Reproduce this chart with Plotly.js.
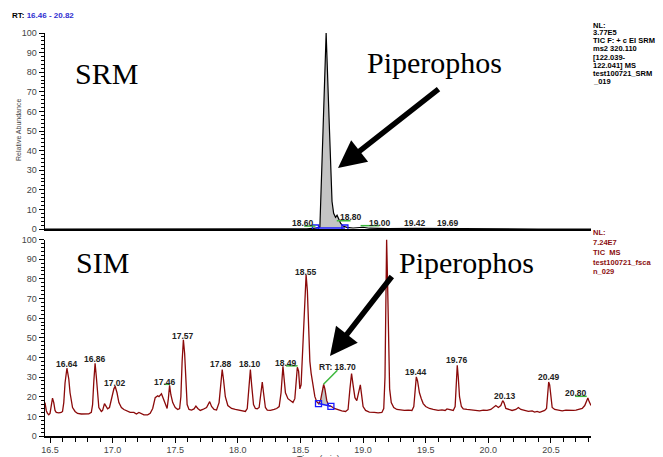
<!DOCTYPE html>
<html><head><meta charset="utf-8">
<script src="https://cdn.plot.ly/plotly-3.0.1.min.js"></script>
<style>html,body{margin:0;padding:0;background:#fff}#chart{width:663px;height:457px}</style>
</head><body><div id="chart"></div>
<script>
// ---- SRM trace (top panel) ----
const srmTime  = [16.46,16.80,17.20,17.60,18.00,18.30,18.55,18.62,18.655,18.68,18.705,18.728,18.752,18.765,18.78,18.792,18.805,18.82,18.84,18.87,18.92,18.97,19.00,19.05,19.20,19.42,19.60,19.69,20.00,20.40,20.82];
const srmAbund = [0,0,0,0,0,0,0.1,0.4,1,50,100,57,14,8,6,7,5,3,1.5,0.8,0.5,0.6,0.9,0.4,0.2,0.3,0.2,0.3,0.1,0,0];
const srmPeakWindow = [18.62, 18.855];
const srmBaseLevel = [0.5, 0.5];

// ---- SIM trace (bottom panel) ----
const simTime = [16.46,16.47,16.48,16.49,16.50,16.51,16.52,16.53,16.54,16.55,16.57,16.59,16.60,16.61,16.62,16.635,16.65,16.66,16.67,16.68,16.70,16.72,16.75,16.78,16.81,16.83,16.84,16.85,16.86,16.87,16.88,16.89,16.91,16.92,16.935,16.95,16.96,16.975,16.99,17.01,17.02,17.035,17.05,17.07,17.09,17.11,17.14,17.17,17.19,17.21,17.23,17.25,17.28,17.30,17.32,17.34,17.36,17.37,17.39,17.41,17.425,17.435,17.445,17.455,17.465,17.48,17.50,17.52,17.535,17.545,17.555,17.565,17.575,17.585,17.595,17.61,17.63,17.65,17.665,17.68,17.70,17.72,17.75,17.775,17.79,17.81,17.83,17.85,17.865,17.875,17.885,17.90,17.92,17.95,17.98,18.01,18.04,18.06,18.075,18.09,18.10,18.11,18.125,18.14,18.155,18.17,18.185,18.195,18.205,18.22,18.235,18.26,18.29,18.31,18.33,18.345,18.36,18.37,18.38,18.40,18.42,18.44,18.455,18.465,18.475,18.485,18.495,18.505,18.52,18.535,18.545,18.555,18.565,18.575,18.585,18.60,18.615,18.63,18.645,18.66,18.675,18.685,18.695,18.71,18.725,18.745,18.77,18.80,18.83,18.86,18.88,18.895,18.908,18.92,18.935,18.95,18.965,18.978,18.99,19.00,19.02,19.05,19.09,19.12,19.15,19.165,19.175,19.182,19.188,19.195,19.203,19.212,19.225,19.245,19.27,19.30,19.33,19.36,19.39,19.405,19.415,19.425,19.435,19.45,19.465,19.48,19.50,19.53,19.56,19.60,19.63,19.655,19.67,19.69,19.72,19.735,19.745,19.752,19.76,19.77,19.785,19.80,19.83,19.87,19.90,19.93,19.96,19.99,20.02,20.04,20.06,20.08,20.10,20.115,20.125,20.14,20.16,20.19,20.22,20.24,20.26,20.29,20.32,20.35,20.37,20.39,20.41,20.43,20.45,20.465,20.475,20.482,20.49,20.50,20.51,20.53,20.56,20.59,20.62,20.65,20.68,20.70,20.73,20.75,20.77,20.785,20.795,20.805,20.82];
const simAbund = [17,13,11.5,10.8,11.5,15,19.3,17,13,12,11.8,12,12.5,17,27,34.5,29,22,17,14.5,12.5,11.5,11.2,11.2,11.3,12,16,28,37,30,19,14.5,12.5,13,16.5,15,13.8,14.5,19,24,25.3,22,17,14.5,13.5,12.8,12,12,11.2,12,11.6,10.8,10.8,11.5,14,19.5,20.5,20,21.5,18,15,14,19,25.8,21,17,14.5,13.5,14,20,38,49,42,25,16,13.5,13.2,13.8,15.2,14,13,13.5,14.5,17.5,15,13.5,13.2,17,30,33.8,29,20,15.5,14,13.5,13,12.5,12.5,14,28,33.8,26,16,14,13.8,14.5,24,27.5,22,14.5,13.2,13,13.5,14,15,22,35.5,30,22,19,18,17,19,30,35,33,24,26,45,70,82,74,52,38,32,26,20,17.5,16.5,18,24,26.3,24,18,15.5,15.1,14,13.2,12.8,12.5,13.5,24,31.8,26,19.5,18,22,26,20,15,13,12.2,12,11.8,12,14,30,60,100,80,45,24,17,14.5,13.5,13.2,13,13.2,13,15,24,30.1,28,22,19,16.5,15,14,13.5,13,13.3,13,13.8,13.5,13,15,28,36,30,20,15,13.8,13.5,13.2,13,12.8,13.2,13,13.5,14.5,15.5,14.5,15.5,18,17,14,13.5,13,13.5,14.5,13.5,12.8,12.5,12.8,12.2,12.5,12,12.5,13,14,24,27.5,26,18,14.5,13.5,13,12.8,13.2,13,13,13.2,13.5,14,15.5,18.5,19.4,17.5,15.5];
const simPeakWindow = [18.644, 18.743];
const simBaseLevel = [16.5, 15.1];

// ---- peak labels ----
const srmLabelText = ['RT: 18.72','18.60','18.80','19.00','19.42','19.69'];
const srmLabelTime = [18.705,18.522,18.902,19.135,19.414,19.677];
const srmLabelAbund = [103,3.1,6.1,3.1,3.1,3.1];

const simLabelText = ['16.64','16.86','17.02','17.46','17.57','17.88','18.10','18.49','18.55','RT: 18.70','19.19','19.44','19.76','20.13','20.49','20.80'];
const simLabelTime = [16.633,16.858,17.017,17.416,17.561,17.869,18.098,18.385,18.544,18.795,19.185,19.424,19.751,20.13,20.481,20.701];
const simLabelAbund = [36.5,39.2,27,27.5,51,36.4,36.5,37.4,83.6,34.9,102.8,32.6,38.6,20.4,30.1,22.1];

// leader lines [t0, v0, t1, v1]
const srmLeaders = [[18.53,1.5,18.62,1.5],[18.79,4.2,18.90,4.2],[18.98,1.7,19.13,1.7]];
const simLeaders = [[17.415,26.3,17.455,26.3],[18.385,35.7,18.477,35.7],[18.684,26.3,18.795,33.5],[20.693,20.2,20.786,20.2]];

const srmInfo = ['NL:','3.77E5','TIC F: + c EI SRM','ms2 320.110','[122.039-','122.041] MS','test100721_SRM','_019'];
const simInfo = ['NL:','7.24E7','TIC  MS','test100721_fsca','n_029'];

// ---- geometry helpers (decoration placement only) ----
const W = 663, H = 457, ML = 45, MR = 72, MT = 33, MB = 21;
const PW = W - ML - MR, PH = H - MT - MB;
const px = v => (v - ML) / PW;
const py = v => (H - MB - v) / PH;
const topDom = [py(229), 1];
const botDom = [0, py(239.5)];

function segment(ts, vs, win, base) {
  const x = [win[0]], y = [base[0]];
  for (let i = 0; i < ts.length; i++) if (ts[i] > win[0] && ts[i] < win[1]) { x.push(ts[i]); y.push(vs[i]); }
  x.push(win[1]); y.push(base[1]);
  return {x, y};
}
const srmSeg = segment(srmTime, srmAbund, srmPeakWindow, srmBaseLevel);
const simSeg = segment(simTime, simAbund, simPeakWindow, simBaseLevel);

const simColor = '#8b0a0a';
const traces = [
  {x: srmPeakWindow, y: srmBaseLevel, xaxis:'x', yaxis:'y', mode:'lines', line:{width:0}, hoverinfo:'skip'},
  {x: srmSeg.x, y: srmSeg.y, xaxis:'x', yaxis:'y', mode:'lines', line:{width:0}, fill:'tonexty', fillcolor:'#c4c4c4'},
  {x: srmTime, y: srmAbund, xaxis:'x', yaxis:'y', mode:'lines', line:{color:'#000', width:1.2}},
  {x: srmPeakWindow, y: srmBaseLevel, xaxis:'x', yaxis:'y', mode:'lines+markers', line:{color:'#1a1aff', width:1.5}, marker:{symbol:'square-open', size:6, color:'#1a1aff', line:{width:1.3, color:'#1a1aff'}}},
  {x: simPeakWindow, y: simBaseLevel, xaxis:'x2', yaxis:'y2', mode:'lines', line:{width:0}, hoverinfo:'skip'},
  {x: simSeg.x, y: simSeg.y, xaxis:'x2', yaxis:'y2', mode:'lines', line:{width:0}, fill:'tonexty', fillcolor:'#c4c4c4'},
  {x: simTime, y: simAbund, xaxis:'x2', yaxis:'y2', mode:'lines', line:{color:simColor, width:1.3}},
  {x: simPeakWindow, y: simBaseLevel, xaxis:'x2', yaxis:'y2', mode:'lines+markers', line:{color:'#1a1aff', width:1.5}, marker:{symbol:'square-open', size:6, color:'#1a1aff', line:{width:1.3, color:'#1a1aff'}}}
];

const shapes = [];
srmLeaders.forEach(l => shapes.push({type:'line', xref:'x', yref:'y', x0:l[0], y0:l[1], x1:l[2], y1:l[3], line:{color:'#3cb83c', width:1.5}}));
simLeaders.forEach(l => shapes.push({type:'line', xref:'x2', yref:'y2', x0:l[0], y0:l[1], x1:l[2], y1:l[3], line:{color:'#3cb83c', width:1.5}}));

const annotations = [];
const lblFont = {family:'Liberation Sans, Arial', size:8.5, color:'#222', weight:'bold'};
srmLabelText.forEach((t,i) => annotations.push({text:t, x:srmLabelTime[i], y:srmLabelAbund[i], xref:'x', yref:'y', showarrow:false, xanchor:'center', yanchor:'middle', font:lblFont}));
simLabelText.forEach((t,i) => annotations.push({text:t, x:simLabelTime[i], y:simLabelAbund[i], xref:'x2', yref:'y2', showarrow:false, xanchor:'center', yanchor:'middle', font:lblFont}));

const infoFont = {family:'Liberation Sans, Arial', size:7.5, color:'#000', weight:'bold'};
const srmInfoY = [25,32.7,40.7,48.7,57.3,65.3,73.3,81];
srmInfo.forEach((t,i) => annotations.push({text:t, xref:'paper', yref:'paper', x:px(592), y:py(srmInfoY[i]), xanchor:'left', yanchor:'middle', showarrow:false, borderpad:0, font:infoFont}));
const simInfoY = [232.3,242.7,252.3,262,271.7];
simInfo.forEach((t,i) => annotations.push({text:t, xref:'paper', yref:'paper', x:px(592), y:py(simInfoY[i]), xanchor:'left', yanchor:'middle', showarrow:false, borderpad:0, font:Object.assign({}, infoFont, {color:'#8b1010'})}));

annotations.push({text:'RT: <span style="color:#3030d0">16.46 - 20.82</span>', xref:'paper', yref:'paper', x:px(10), y:py(16), xanchor:'left', yanchor:'middle', showarrow:false, font:{family:'Liberation Sans, Arial', size:8, color:'#000', weight:'bold'}});
annotations.push({text:'Relative Abundance', xref:'paper', yref:'paper', x:px(18), y:py(130), textangle:-90, xanchor:'center', yanchor:'middle', showarrow:false, font:{family:'Liberation Sans, Arial', size:7, color:'#444'}});
annotations.push({text:'Time (min)', xref:'paper', yref:'paper', x:px(318), y:py(452.5), xanchor:'center', yanchor:'top', showarrow:false, borderpad:0, font:{family:'Liberation Sans, Arial', size:9, color:'#444'}});

const bigFont = {family:'Liberation Serif, Times New Roman, serif', size:30, color:'#000'};
annotations.push({text:'SRM', xref:'paper', yref:'paper', x:px(106.5), y:py(73), xanchor:'center', yanchor:'middle', showarrow:false, font:bigFont});
annotations.push({text:'SIM', xref:'paper', yref:'paper', x:px(102), y:py(262.5), xanchor:'center', yanchor:'middle', showarrow:false, font:bigFont});
annotations.push({text:'Piperophos', xref:'paper', yref:'paper', x:px(434.5), y:py(62), xanchor:'center', yanchor:'middle', showarrow:false, font:bigFont});
annotations.push({text:'Piperophos', xref:'paper', yref:'paper', x:px(466.5), y:py(262.5), xanchor:'center', yanchor:'middle', showarrow:false, font:bigFont});

annotations.push({text:'', xref:'paper', yref:'paper', x:px(338), y:py(168), ax:102, ay:-80, axref:'pixel', ayref:'pixel', showarrow:true, arrowhead:2, arrowsize:1, arrowwidth:5.5, arrowcolor:'#000', standoff:0});
annotations.push({text:'', xref:'paper', yref:'paper', x:px(330), y:py(356), ax:63, ay:-81, axref:'pixel', ayref:'pixel', showarrow:true, arrowhead:2, arrowsize:1, arrowwidth:5.5, arrowcolor:'#000', standoff:0});

const yCommon = {range:[0,100], showline:true, linecolor:'#000', linewidth:1.5, ticks:'outside', ticklen:5, tickwidth:1, tickcolor:'#000', tick0:0, dtick:10, minor:{tick0:0, dtick:2, ticks:'outside', ticklen:3, tickcolor:'#000', tickwidth:1}, showgrid:false, zeroline:false, tickfont:{family:'Liberation Sans, Arial', size:9, color:'#444'}, fixedrange:true};
const layout = {
  width:W, height:H, margin:{l:ML, r:MR, t:MT, b:MB}, paper_bgcolor:'#fff', plot_bgcolor:'#fff', showlegend:false,
  font:{family:'Liberation Sans, Arial', size:9, color:'#444'},
  xaxis:{domain:[0,1], anchor:'y', range:[16.46,20.82], showline:true, linecolor:'#000', linewidth:1.5, ticks:'', showticklabels:false, showgrid:false, zeroline:false},
  yaxis:Object.assign({domain:topDom, anchor:'x'}, yCommon),
  xaxis2:{domain:[0,1], anchor:'y2', range:[16.46,20.82], showline:true, linecolor:'#000', linewidth:1.5, ticks:'outside', ticklen:5, tickwidth:1, tickcolor:'#000', tick0:16.5, dtick:0.5, tickformat:'.1f', minor:{tick0:16.5, dtick:0.1, ticks:'outside', ticklen:4, tickcolor:'#000', tickwidth:1}, showgrid:false, zeroline:false, tickfont:{family:'Liberation Sans, Arial', size:9, color:'#444'}},
  yaxis2:Object.assign({domain:botDom, anchor:'x2'}, yCommon),
  shapes, annotations
};
Plotly.newPlot('chart', traces, layout, {displayModeBar:false, staticPlot:true});
</script></body></html>
